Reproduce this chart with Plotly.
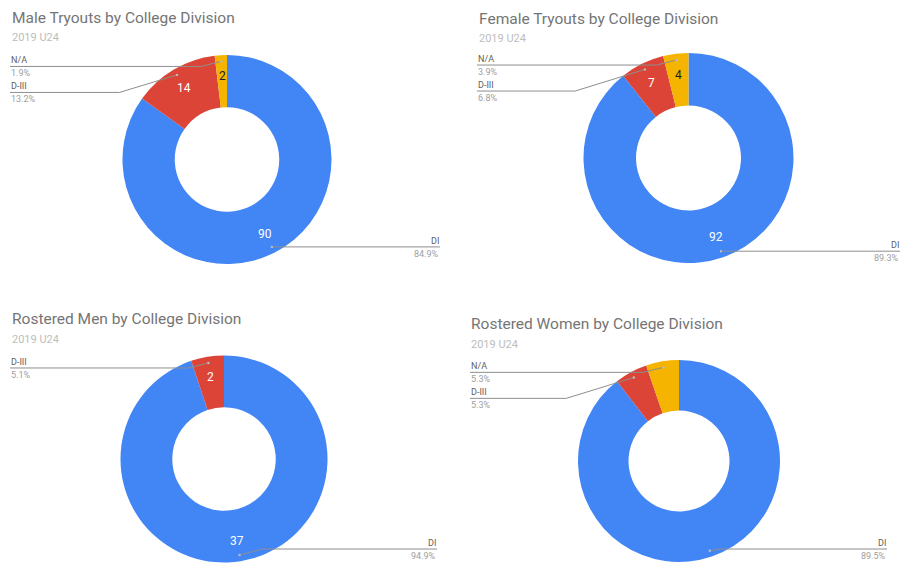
import math
import plotly.graph_objects as go

# -------------------------------------------------------
# Datos
# -------------------------------------------------------
divisions = ["DI", "D-III", "N/A"]
colors = ["#4285F4", "#DB4437", "#F4B400"]

titles = [
    "Male Tryouts by College Division",
    "Female Tryouts by College Division",
    "Rostered Men by College Division",
    "Rostered Women by College Division",
]
subtitle = "2019 U24"

male_tryouts = [90, 14, 2]
female_tryouts = [92, 7, 4]
rostered_men = [37, 2, 0]
rostered_women = [17, 1, 1]

series = [male_tryouts, female_tryouts, rostered_men, rostered_women]
show_values = [True, True, True, False]

# -------------------------------------------------------
# Layout (pixels in the 914x573 window; page body has an 8px margin)
# -------------------------------------------------------
WIN_W, WIN_H = 914, 573
OFF = 8
W, H = WIN_W - 2 * OFF, WIN_H - 2 * OFF

panels = [
    dict(cx=227, cy=159.5, R=104.5, tx=11, ty=18, lx=10, rx=440, bottom=265),
    dict(cx=688.5, cy=158, R=105, tx=478, ty=19, lx=477, rx=900, bottom=265),
    dict(cx=224, cy=459, R=103.5, tx=11, ty=319, lx=10, rx=437, bottom=549),
    dict(cx=679, cy=461, R=101, tx=470, ty=324, lx=470, rx=887, bottom=549),
]

FONT = "Roboto"
LINE_COLOR = "#8E8E8E"


def px(x):
    return (x - OFF) / W


def py(y):
    return 1 - (y - OFF) / H


fig = go.Figure()
annotations = []
shapes = []


def label(x, y, text, size, color, xanchor="center", yanchor="middle"):
    annotations.append(dict(
        x=px(x), y=py(y), xref="paper", yref="paper",
        xanchor=xanchor, yanchor=yanchor, showarrow=False, borderpad=0,
        text=text, font=dict(family=FONT, size=size, color=color),
    ))


for values, title, p, show in zip(series, titles, panels, show_values):
    cx, cy, R = p["cx"], p["cy"], p["R"]
    fig.add_trace(go.Pie(
        labels=divisions,
        values=values,
        hole=0.5,
        sort=False,
        direction="clockwise",
        rotation=0,
        marker=dict(colors=colors, line=dict(width=0)),
        textinfo="none",
        hoverinfo="label+value+percent",
        showlegend=False,
        domain=dict(x=[px(cx - R), px(cx + R)], y=[py(cy + R), py(cy - R)]),
    ))

    label(p["tx"], p["ty"], title, 15.5, "#757575", xanchor="left")
    label(p["tx"], p["ty"] + 20, subtitle, 11, "#BDBDBD", xanchor="left")

    total = sum(values)
    cum = 0
    left_items = []
    right_items = []
    for name, v in zip(divisions, values):
        if v == 0:
            continue
        frac = v / total
        mid = (cum + frac / 2) * 2 * math.pi
        cum += frac
        s, c = math.sin(mid), -math.cos(mid)

        # valor dentro del anillo
        if show:
            rt = R * 0.8
            label(cx + rt * s, cy + rt * c, str(v), 12,
                  "#212121" if name == "N/A" else "white")

        dot = (cx + 0.94 * R * s, cy + 0.94 * R * c)
        item = dict(name=name, pct=f"{frac * 100:.1f}%", dot=dot)
        (right_items if s > 0.05 else left_items).append(item)

    # etiquetas a la izquierda, apiladas
    left_items.sort(key=lambda it: it["dot"][1])
    prev = -1e9
    for it in left_items:
        dx, dy = it["dot"]
        ly = max(dy + 5, prev + 26)
        prev = ly
        ex = dx - 3 * abs(ly - dy) - 5
        it.update(ly=ly, ex=ex, x_end=p["lx"], anchor="left")
    for it in right_items:
        dx, dy = it["dot"]
        ly = min(dy, p["bottom"])
        ex = dx + 3 * abs(ly - dy) + 5
        it.update(ly=ly, ex=ex, x_end=p["rx"], anchor="right")

    for it in left_items + right_items:
        dx, dy = it["dot"]
        ly, ex, xe = it["ly"], it["ex"], it["x_end"]
        shapes.append(dict(
            type="path", xref="paper", yref="paper",
            path=f"M {px(dx)} {py(dy)} L {px(ex)} {py(ly)} L {px(xe)} {py(ly)}",
            line=dict(color=LINE_COLOR, width=1),
        ))
        shapes.append(dict(
            type="circle", xref="paper", yref="paper",
            x0=px(dx - 1.2), x1=px(dx + 1.2), y0=py(dy + 1.2), y1=py(dy - 1.2),
            fillcolor="#BDBDBD", line=dict(width=0),
        ))
        label(xe, ly - 6, it["name"], 9, "#616161", xanchor=it["anchor"])
        label(xe, ly + 7, it["pct"], 9, "#9E9E9E", xanchor=it["anchor"])

fig.update_layout(
    width=W, height=H,
    margin=dict(l=0, r=0, t=0, b=0),
    paper_bgcolor="white",
    plot_bgcolor="white",
    annotations=annotations,
    shapes=shapes,
    font=dict(family=FONT),
)

fig.write_html("out.html")
